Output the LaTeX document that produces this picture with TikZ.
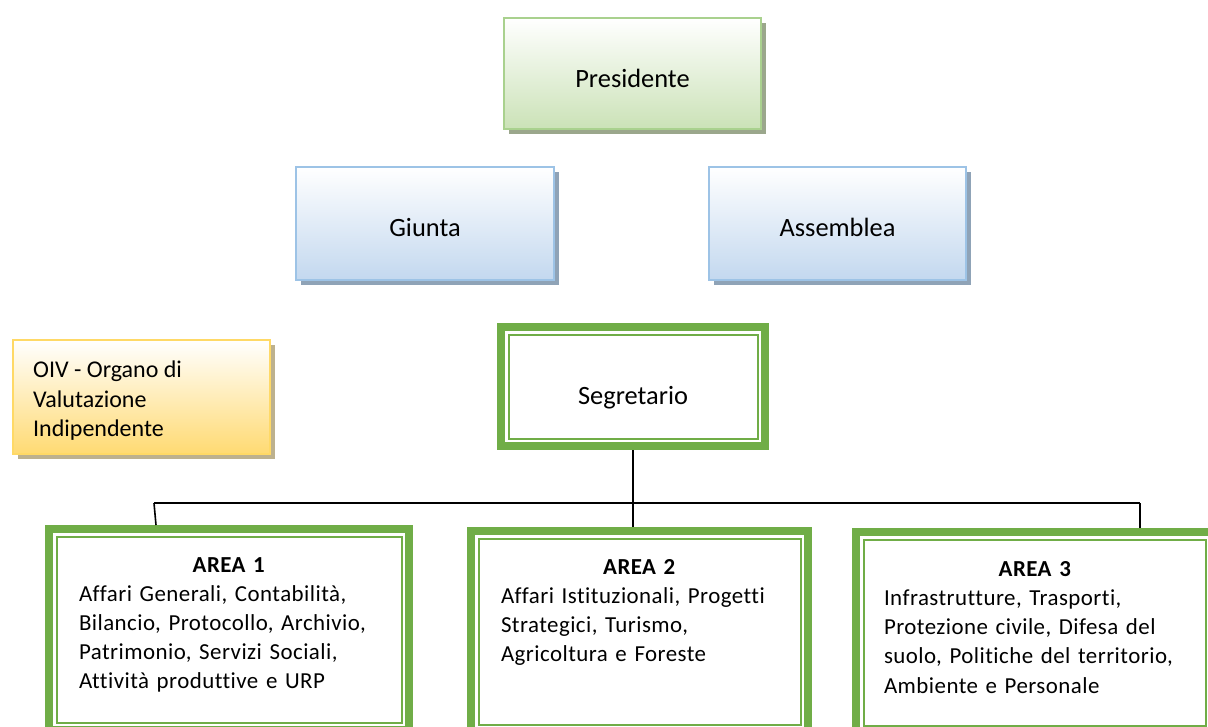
\documentclass[tikz,border=0pt]{standalone}
\usepackage{fontspec}
\setmainfont{Carlito}[Ligatures=CommonOff]
\newfontfamily\areafont{Carlito}[Ligatures=CommonOff, LetterSpace=2]
\usetikzlibrary{shadows}

\definecolor{frameGreen}{HTML}{70AD47}
\definecolor{presBorder}{HTML}{A9D18E}
\definecolor{presFill}{HTML}{CBE2B7}
\definecolor{presShadow}{HTML}{9BA78C}
\definecolor{organBorder}{HTML}{9DC3E6}
\definecolor{organFill}{HTML}{C3D8EF}
\definecolor{organShadow}{HTML}{8FA3B7}
\definecolor{oivBorder}{HTML}{FFD966}
\definecolor{oivFill}{HTML}{FFDA72}
\definecolor{oivShadow}{HTML}{BDB18E}

\newcommand{\innerframe}[1]{\draw[innerline] ([shift={(11.5pt,-11.5pt)}]#1.north west) rectangle ([shift={(-11.5pt,11.5pt)}]#1.south east);}

\begin{document}
\begin{tikzpicture}[x=1pt, y=-1pt,
    bigtxt/.style={font=\fontsize{26.4}{32}\selectfont, text height=26pt, text depth=0pt},
    oivtxt/.style={font=\fontsize{24}{29.5}\selectfont},
    txt/.style={font=\areafont\fontsize{22.9}{29.2}\selectfont},
    softbox/.style={bigtxt, draw, line width=2pt, inner sep=0pt},
    presbox/.style={softbox, draw=presBorder, top color=white, bottom color=presFill,
      drop shadow={shadow xshift=5pt, shadow yshift=-5pt, fill=presShadow, opacity=1}},
    organbox/.style={softbox, draw=organBorder, top color=white, bottom color=organFill,
      drop shadow={shadow xshift=5pt, shadow yshift=-5pt, fill=organShadow, opacity=1}},
    oivbox/.style={softbox, draw=oivBorder, top color=white, bottom color=oivFill,
      drop shadow={shadow xshift=5pt, shadow yshift=-5pt, fill=oivShadow, opacity=1}},
    framebox/.style={bigtxt, draw=frameGreen, line width=8pt, fill=white, inner sep=0pt},
    innerline/.style={draw=frameGreen, line width=2pt},
    areatext/.style={txt, inner sep=0pt, anchor=north},
    link/.style={draw=black, line width=1.6pt}]
      \useasboundingbox (0, 0) rectangle (1208, 726);
      \clip (0, 0) rectangle (1208, 726);

      % organi politici
      \node[presbox, minimum width=257pt, minimum height=111pt, text height=27.6pt] (pres) at (632.5, 73.5) {Presidente};
      \node[organbox, minimum width=258pt, minimum height=113pt, text height=25pt] (giunta) at (425, 223.5) {Giunta};
      \node[organbox, minimum width=257pt, minimum height=113pt, text height=25pt] (assemblea) at (837.5, 223.5) {Assemblea};

      \node[oivbox, minimum width=257pt, minimum height=114pt] (oiv) at (141.5, 397) {};
      \node[oivtxt, align=left, anchor=west, inner sep=0pt] (oivtxt) at ([xshift=21pt, yshift=-4pt]oiv.west)
        {OIV - Organo di\\Valutazione\\Indipendente};

      % segretario
      \node[framebox, minimum width=264pt, minimum height=119pt, text height=35pt] (seg) at (633, 386.5) {Segretario};
      \innerframe{seg}

      % aree
      \node[framebox, minimum width=360pt, minimum height=201pt] (area1) at (229, 629.5) {};
      \node[framebox, minimum width=337pt, minimum height=201pt] (area2) at (639.5, 631.5) {};
      \node[framebox, minimum width=357.5pt, minimum height=201pt] (area3) at (1034.75, 632.5) {};
      \innerframe{area1}
      \innerframe{area2}
      \innerframe{area3}

      \node[areatext, text width=300pt] (area1txt) at (229, 557)
        {\centering\textbf{AREA 1}\par\raggedright
         Affari Generali, Contabilità,\\Bilancio, Protocollo, Archivio,\\Patrimonio, Servizi Sociali,\\Attività produttive e URP\par};
      \node[areatext, text width=277pt] (area2txt) at (639.5, 559)
        {\centering\textbf{AREA 2}\par\raggedright
         Affari Istituzionali, Progetti\\Strategici, Turismo,\\Agricoltura e Foreste\par};
      \node[areatext, text width=302pt] (area3txt) at (1035, 561)
        {\centering\textbf{AREA 3}\par\raggedright
         Infrastrutture, Trasporti,\\Protezione civile, Difesa del\\suolo, Politiche del territorio,\\Ambiente e Personale\par};

      % collegamenti
      \coordinate (busL) at (154, 503);
      \coordinate (busR) at (1140, 503);
      \draw[link] (busL) -- (busR);
      \draw[link] (seg.south) -- (seg.south |- area2.north);
      \draw[link] (busL) -- ([xshift=2pt]busL |- area1.north);
      \draw[link] (busR) -- (busR |- area3.north);
    \end{tikzpicture}
\end{document}
